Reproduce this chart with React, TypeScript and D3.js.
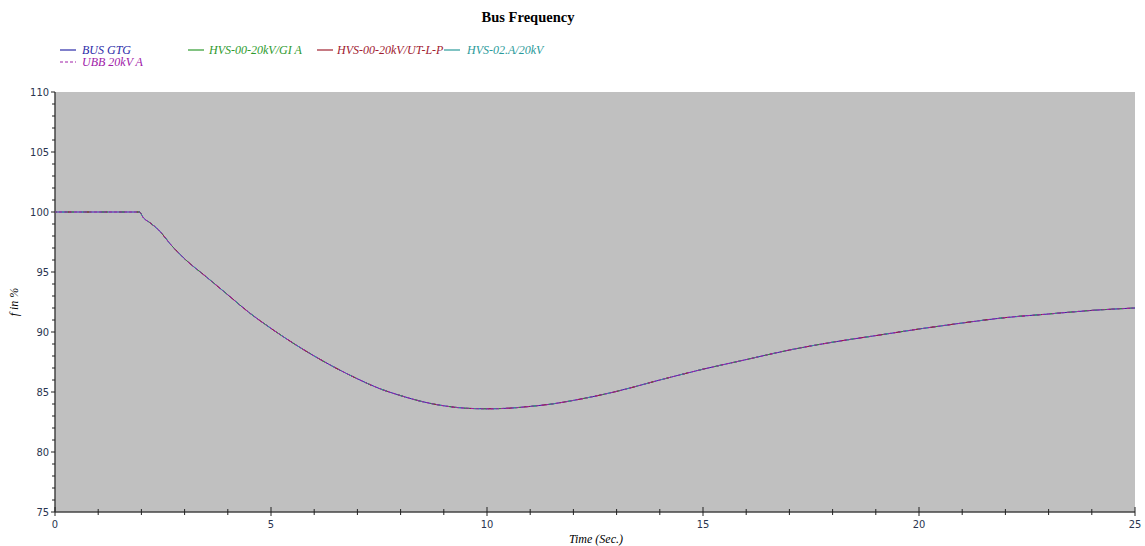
import React, { useEffect, useRef } from 'react';
import * as d3 from 'd3';

const timeSec = [0, 1.95, 2.05, 2.2, 2.4, 2.7, 3.0, 3.5, 4, 4.5, 5, 5.5, 6, 6.5, 7, 7.5, 8, 8.5, 9, 9.5, 10, 10.5, 11, 11.5, 12, 12.5, 13, 14, 15, 16, 17, 18, 19, 20, 21, 22, 23, 24, 25];
const freqPct = [100, 100, 99.5, 99.1, 98.5, 97.2, 96.1, 94.6, 93.1, 91.6, 90.3, 89.1, 88.0, 87.0, 86.1, 85.3, 84.7, 84.2, 83.85, 83.65, 83.6, 83.65, 83.8, 84.0, 84.3, 84.65, 85.05, 86.0, 86.9, 87.7, 88.5, 89.15, 89.7, 90.25, 90.75, 91.2, 91.5, 91.8, 92.0];

const seriesNames = ['BUS GTG', 'HVS-00-20kV/GI A', 'HVS-00-20kV/UT-L-P', 'HVS-02.A/20kV', 'UBB 20kV A'];
const seriesColors = ['#2b2ba8', '#2e9a2e', '#a02030', '#2a9a9a', '#a020a8'];
const seriesDashed = [false, false, false, false, true];

const xTicks = [0, 5, 10, 15, 20, 25];
const yTicks = [75, 80, 85, 90, 95, 100, 105, 110];

export default function App() {
  const svgRef = useRef<SVGSVGElement>(null);

  useEffect(() => {
    const width = 1145;
    const height = 546;
    const m = { left: 55, right: 10, top: 92, bottom: 34 };

    const svg = d3.select(svgRef.current);
    svg.selectAll('*').remove();
    svg.attr('width', width).attr('height', height);

    const x = d3.scaleLinear().domain([0, 25]).range([m.left, width - m.right]);
    const y = d3.scaleLinear().domain([75, 110]).range([height - m.bottom, m.top]);

    const serif = '"Liberation Serif", "Times New Roman", serif';

    // plot background
    svg.append('rect')
      .attr('x', x(0)).attr('y', y(110))
      .attr('width', x(25) - x(0)).attr('height', y(75) - y(110))
      .attr('fill', '#c0c0c0');

    // title
    svg.append('text')
      .attr('x', 528).attr('y', 22)
      .attr('text-anchor', 'middle')
      .attr('font-family', serif)
      .attr('font-weight', 'bold')
      .attr('font-size', 14.5)
      .text('Bus Frequency');

    // axes
    const axisColor = '#444';
    const tickFont = '"DejaVu Sans Condensed", "DejaVu Sans", Tahoma, sans-serif';

    svg.append('line')
      .attr('x1', x(0)).attr('x2', x(25)).attr('y1', y(75)).attr('y2', y(75))
      .attr('stroke', axisColor).attr('stroke-width', 1.5);
    svg.append('line')
      .attr('x1', x(0)).attr('x2', x(0)).attr('y1', y(75)).attr('y2', y(110))
      .attr('stroke', axisColor).attr('stroke-width', 1.5);

    d3.range(0, 26).forEach((t) => {
      const major = t % 5 === 0;
      svg.append('line')
        .attr('x1', x(t)).attr('x2', x(t))
        .attr('y1', y(75) - (major ? 5 : 3)).attr('y2', y(75) + (major ? 4 : 3))
        .attr('stroke', '#222').attr('stroke-width', 1);
    });
    d3.range(75, 111).forEach((v) => {
      const major = v % 5 === 0;
      svg.append('line')
        .attr('x1', x(0) - (major ? 4 : 3)).attr('x2', x(0))
        .attr('y1', y(v)).attr('y2', y(v))
        .attr('stroke', '#222').attr('stroke-width', 1);
    });

    svg.selectAll('.xt')
      .data(xTicks)
      .enter()
      .append('text')
      .attr('x', (d) => x(d))
      .attr('y', y(75) + 16)
      .attr('text-anchor', 'middle')
      .attr('font-family', tickFont)
      .attr('font-size', 11)
      .attr('fill', '#2a3550')
      .text((d) => d);

    svg.selectAll('.yt')
      .data(yTicks)
      .enter()
      .append('text')
      .attr('x', x(0) - 6)
      .attr('y', (d) => y(d) + 4)
      .attr('text-anchor', 'end')
      .attr('font-family', tickFont)
      .attr('font-size', 11)
      .attr('fill', '#2a3550')
      .text((d) => d);

    // axis labels
    svg.append('text')
      .attr('x', 596).attr('y', 543)
      .attr('text-anchor', 'middle')
      .attr('font-family', serif)
      .attr('font-style', 'italic')
      .attr('font-size', 12)
      .text('Time (Sec.)');
    svg.append('text')
      .attr('transform', `translate(18, ${y(92.5)}) rotate(-90)`)
      .attr('text-anchor', 'middle')
      .attr('font-family', serif)
      .attr('font-style', 'italic')
      .attr('font-size', 12)
      .text('f in %');

    // series
    const pts = timeSec.map((t, i) => [t, freqPct[i]] as [number, number]);
    const line = d3.line<[number, number]>()
      .x((d) => x(d[0]))
      .y((d) => y(d[1]))
      .curve(d3.curveMonotoneX);

    seriesNames.forEach((name, i) => {
      svg.append('path')
        .datum(pts)
        .attr('d', line)
        .attr('fill', 'none')
        .attr('stroke', seriesColors[i])
        .attr('stroke-width', 1)
        .attr('stroke-dasharray', seriesDashed[i] ? '3,2' : (i === 0 ? null : `6,${10 + i}`))
        .attr('stroke-dashoffset', i * 4);
    });

    // legend
    const legendPos = [
      [60, 50, 82], [188, 50, 209], [317, 50, 337], [444, 50, 467], [60, 62, 82],
    ];
    seriesNames.forEach((name, i) => {
      const [lx, ly, tx] = legendPos[i];
      svg.append('line')
        .attr('x1', lx).attr('x2', lx + 16)
        .attr('y1', ly).attr('y2', ly)
        .attr('stroke', seriesColors[i])
        .attr('stroke-width', 1.2)
        .attr('stroke-dasharray', seriesDashed[i] ? '3,2' : null);
      svg.append('text')
        .attr('x', tx)
        .attr('y', ly + 4)
        .attr('font-family', serif)
        .attr('font-style', 'italic')
        .attr('font-size', 12)
        .attr('fill', seriesColors[i])
        .text(name);
    });
  }, []);

  return (
    <div style={{ position: 'absolute', left: 0, top: 0 }}>
      <svg ref={svgRef}></svg>
    </div>
  );
}
